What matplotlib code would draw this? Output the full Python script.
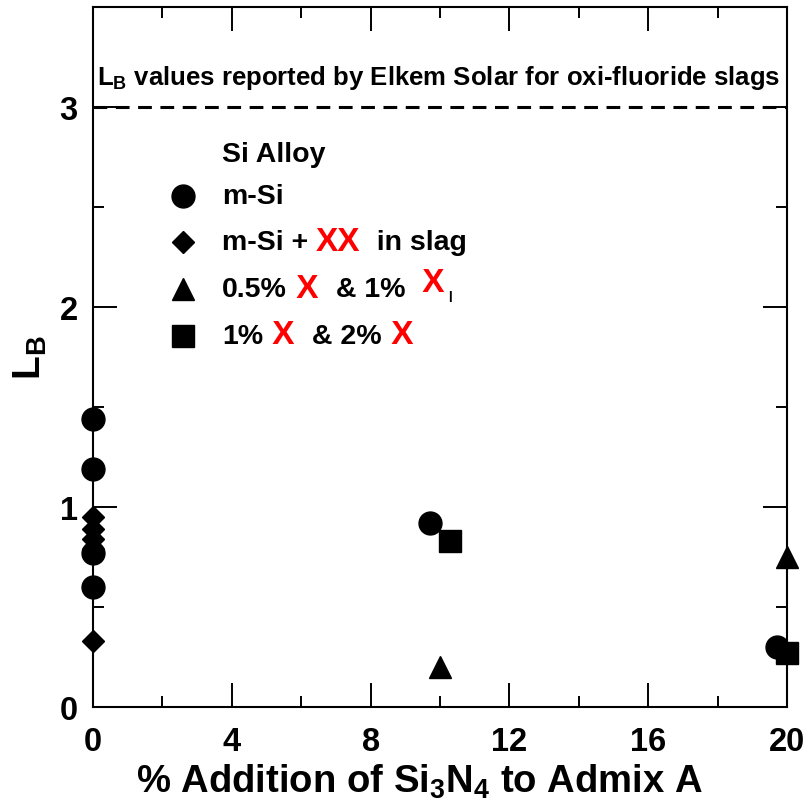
import matplotlib
matplotlib.use('Agg')
import matplotlib.pyplot as plt

plt.rcParams['font.family'] = ['Liberation Sans', 'DejaVu Sans']
plt.rcParams['font.weight'] = 'bold'
plt.rcParams['mathtext.fontset'] = 'custom'
plt.rcParams['mathtext.rm'] = 'Liberation Sans:bold'
plt.rcParams['mathtext.bf'] = 'Liberation Sans:bold'
plt.rcParams['mathtext.it'] = 'Liberation Sans:bold'

# data
msi_x = [0, 0, 0, 0, 9.7, 19.7]
msi_y = [1.44, 1.19, 0.77, 0.60, 0.92, 0.30]
slag_x = [0, 0, 0, 0, 0]
slag_y = [0.95, 0.89, 0.84, 0.79, 0.33]
tri_x = [10.0, 20.0]
tri_y = [0.20, 0.75]
sq_x = [10.3, 20.0]
sq_y = [0.83, 0.27]
elkem_lb = 3.0

x_ticks = [0, 4, 8, 12, 16, 20]
y_ticks = [0, 1, 2, 3]

fig = plt.figure(figsize=(8.09, 8.03), dpi=100)
ax = fig.add_axes([0.115, 0.1183, 0.8577, 0.8717])

ax.axhline(elkem_lb, color='black', lw=2.2, ls=(0, (4.5, 2.8)))
ax.text(0.1, elkem_lb + 0.08, r'L$_\mathbf{B}$ values reported by Elkem Solar for oxi-fluoride slags',
        fontsize=18.5, fontweight='bold', va='bottom', ha='left')

ax.plot(slag_x, slag_y, 'D', color='black', ms=11.5, clip_on=False, zorder=3)
ax.plot(msi_x, msi_y, 'o', color='black', ms=16.5, clip_on=False, zorder=4)
ax.plot(tri_x, tri_y, '^', color='black', ms=16.5, clip_on=False, zorder=3)
ax.plot(sq_x, sq_y, 's', color='black', ms=16.5, clip_on=False, zorder=3)

ax.set_xlim(0, 20)
ax.set_ylim(0, 3.5)
ax.set_xticks(x_ticks)
ax.set_yticks(y_ticks)
ax.set_xticks([2, 6, 10, 14, 18], minor=True)
ax.set_yticks([0.5, 1.5, 2.5, 3.5], minor=True)
ax.tick_params(which='both', direction='in', top=True, right=True, width=1.4)
ax.tick_params(which='major', length=17, labelsize=23.5)
ax.tick_params(which='minor', length=8)
ax.tick_params(axis='x', which='major', pad=14)
ax.tick_params(axis='y', which='major', pad=11)
for lab in ax.get_xticklabels() + ax.get_yticklabels():
    lab.set_fontweight('bold')
for sp in ax.spines.values():
    sp.set_linewidth(1.5)

ax.set_xlabel(r'% Addition of Si$_3$N$_4$ to Admix A', fontsize=27.5, fontweight='bold')
ax.xaxis.set_label_coords(0.471, -0.078)
ax.set_ylabel(r'L$_\mathbf{B}$', fontsize=28, fontweight='bold', labelpad=8)

# legend, drawn by hand because of the red X marks
tr = ax.transAxes
mx, tx = 0.13, 0.186
ax.text(tx, 0.79, 'Si Alloy', transform=tr, fontsize=20.5, fontweight='bold', va='center')
rows = [0.73, 0.664, 0.597, 0.53]
for m, ms, yy in zip(['o', 'D', '^', 's'], [16.5, 11.5, 16.5, 16.5], rows):
    ax.plot([mx], [yy], m, color='black', ms=ms, transform=tr, clip_on=False)

def chain(parts, y):
    prev = None
    for txt, col, size, dy in parts:
        if prev is None:
            prev = ax.text(tx, y, txt, transform=tr, color=col, fontsize=size,
                           fontweight='bold', va='center')
        else:
            prev = ax.annotate(txt, xy=(1, 0), xycoords=prev, xytext=(0, dy),
                               textcoords='offset points', color=col, fontsize=size,
                               fontweight='bold', va='bottom')
    return prev

chain([('m-Si', 'black', 20.5, 0)], rows[0])
chain([('m-Si + ', 'black', 20.5, 0), ('XX', 'red', 24, -1), ('  in slag', 'black', 20.5, 1)], rows[1])
chain([('0.5%', 'black', 20.5, 0), (' X ', 'red', 24, -1), (' & 1% ', 'black', 20.5, 1),
       (' X', 'red', 24, 3), (' l', 'black', 10, -4)], rows[2])
chain([('1%', 'black', 20.5, 0), (' X ', 'red', 24, -1), (' & 2%', 'black', 20.5, 1),
       (' X', 'red', 24, -1)], rows[3])

fig.savefig('out.png', dpi=100)
